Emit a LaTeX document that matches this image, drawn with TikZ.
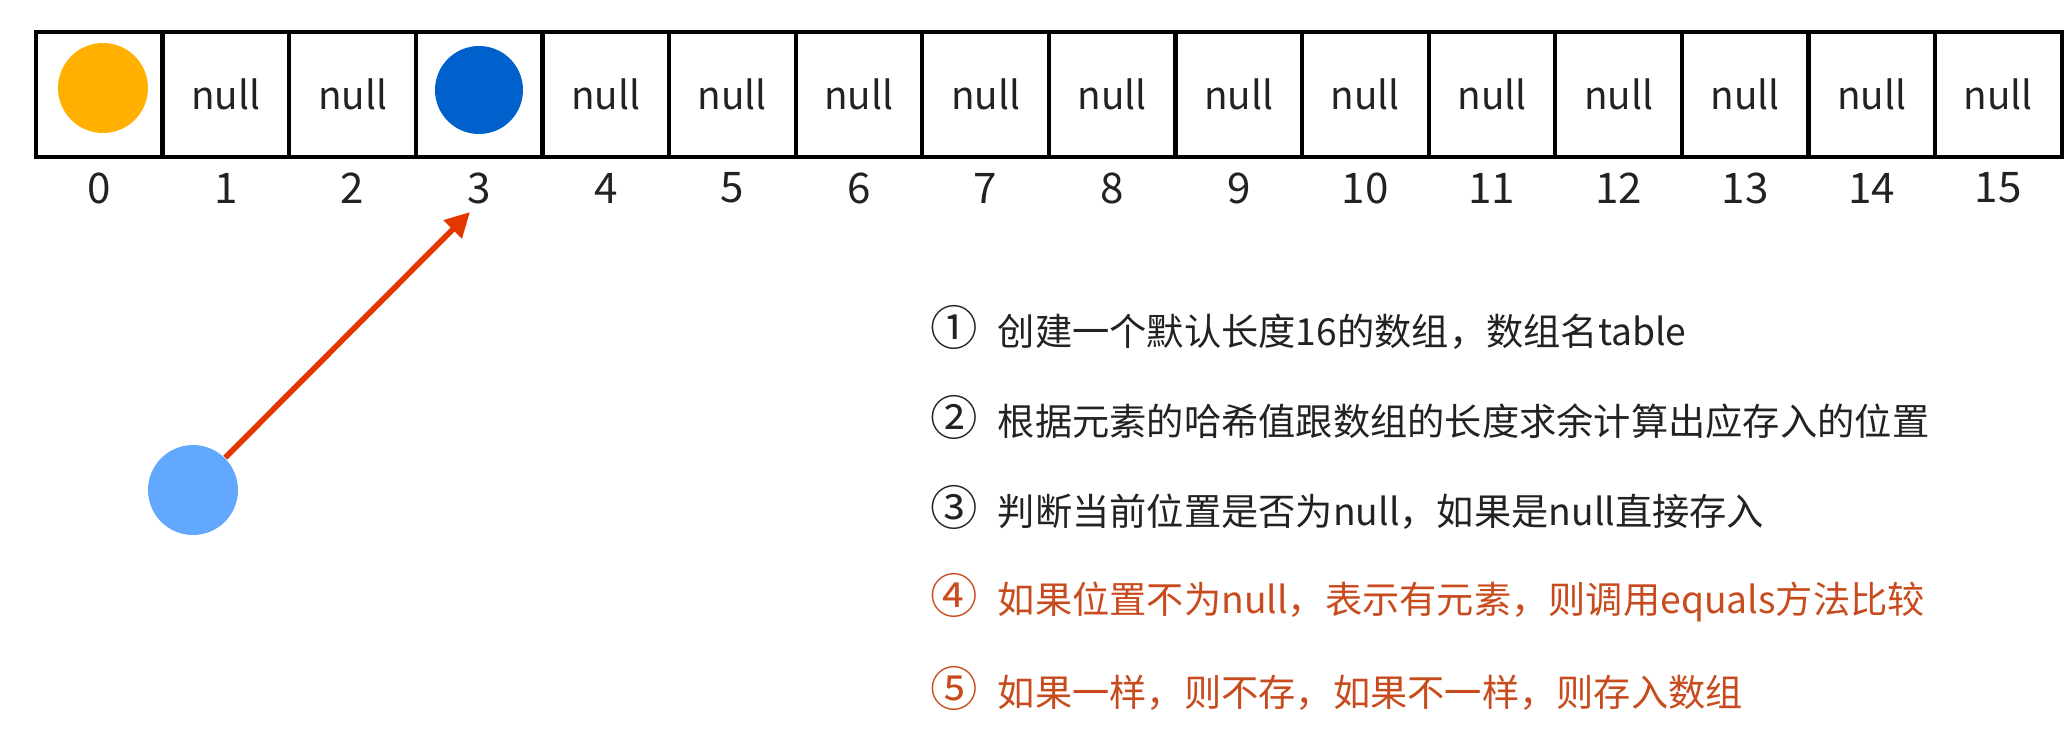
\documentclass[tikz,border=0pt]{standalone}
\usepackage{fontspec}
\setmainfont{Noto Sans CJK SC}
\usepackage{tikz}
\usetikzlibrary{arrows.meta,positioning}
\definecolor{ballyellow}{RGB}{255,176,0}
\definecolor{balldark}{RGB}{0,96,204}
\definecolor{balllight}{RGB}{98,168,255}
\definecolor{arrowred}{RGB}{228,55,0}
\definecolor{notered}{RGB}{200,75,30}
\definecolor{notegray}{RGB}{34,34,34}
\newcommand{\stepno}[1]{{\fontsize{13.5}{13}\selectfont #1}\hspace{0.2cm}}
\tikzset{
    cell/.style = {draw, rectangle, line width=1.2pt,
        minimum width=1.266cm,
        minimum height=1.25cm, inner sep=0pt},
    nulltext/.style = {font=\fontsize{11}{13}\selectfont, text=notegray},
    idx/.style = {font=\fontsize{12}{14}\selectfont, text=notegray},
    ball/.style = {circle, minimum size=0.9cm, inner sep=0pt},
    arrow/.style = {draw=arrowred, line width=1.6pt, -{Triangle[length=7pt,width=7pt]}},
    note/.style = {anchor=west, font=\fontsize{10.6}{13}\selectfont, text=notegray},
    warn/.style = {note, text=notered}
}

\begin{document}
\begin{tikzpicture}
    \useasboundingbox (0,0) rectangle (20.68,7.41);
    % the array
    \foreach \i in {0,...,15} {
        \node[cell] (c\i) at ({0.993+1.266*\i},6.465) {};
        \node[idx] (n\i) at ({0.993+1.266*\i},5.53) {\i};
    }
    \foreach \i in {1,2,4,5,6,7,8,9,10,11,12,13,14,15}
        \node[nulltext] (t\i) at (c\i) {null};
    \node[ball, fill=ballyellow] (b0) at (1.03,6.53) {};
    \node[ball, fill=balldark, minimum size=0.88cm] (b3) at (4.79,6.51) {};
    % new element
    \node[ball, fill=balllight] (e) at (1.93,2.51) {};
    \coordinate (tip) at (4.70,5.29);
    \draw[arrow] (e) -- (tip);
    % steps
    \node[note] (s1) at (9.18,4.14) {\stepno{①}创建一个默认长度16的数组，数组名table};
    \node[note] (s2) at (9.18,3.24) {\stepno{②}根据元素的哈希值跟数组的长度求余计算出应存入的位置};
    \node[note] (s3) at (9.18,2.34) {\stepno{③}判断当前位置是否为null，如果是null直接存入};
    \node[warn] (s4) at (9.18,1.43) {\stepno{④}如果位置不为null，表示有元素，则调用equals方法比较};
    \node[warn] (s5) at (9.18,0.53) {\stepno{⑤}如果一样，则不存，如果不一样，则存入数组};
\end{tikzpicture}
\end{document}
